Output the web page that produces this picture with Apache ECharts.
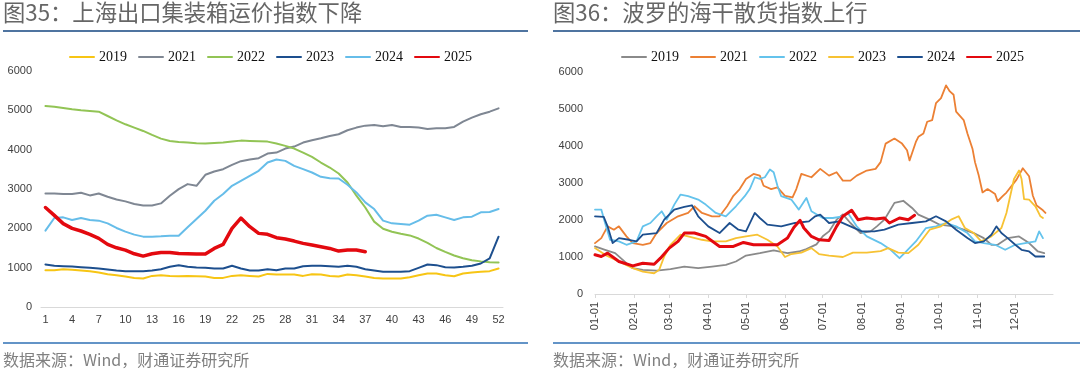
<!DOCTYPE html>
<html><head><meta charset="utf-8">
<script src="https://cdn.jsdelivr.net/npm/echarts@6/dist/echarts.min.js"></script>
<style>html,body{margin:0;padding:0;background:#fff}#c{width:1080px;height:373px}</style>
</head><body><div id="c"></div><script>
// ---------- Left chart: SCFI weekly ----------
var weeks = [];
for (var i = 1; i <= 52; i++) weeks.push(String(i));
var scfi2019 = [936,936,962,945,928,911,877,834,808,774,740,723,791,808,791,783,791,783,774,740,740,791,808,791,774,842,825,825,825,791,834,825,791,774,825,808,774,740,723,723,723,757,808,851,851,808,783,851,877,894,911,979];
var scfi2021 = [2887,2887,2871,2871,2904,2837,2887,2803,2735,2685,2617,2583,2583,2634,2828,2997,3124,3082,3361,3445,3504,3614,3707,3749,3783,3901,3927,4028,4079,4180,4240,4290,4349,4392,4493,4561,4611,4628,4594,4628,4577,4577,4561,4527,4544,4544,4577,4713,4814,4899,4966,5051];
var scfi2022 = [5110,5093,5060,5025,5000,4983,4966,4856,4746,4645,4560,4476,4375,4281,4222,4197,4180,4163,4155,4172,4180,4205,4230,4222,4214,4205,4155,4096,4028,3926,3817,3673,3546,3394,3166,2830,2530,2170,1990,1915,1860,1820,1740,1630,1500,1400,1310,1240,1190,1160,1140,1130];
var scfi2023 = [1081,1047,1038,1030,1013,996,979,953,928,911,911,911,928,962,1021,1064,1021,1004,996,979,979,1047,979,928,928,962,936,979,979,1038,1047,1047,1038,1021,1047,1021,962,928,894,894,894,911,996,1081,1064,1013,1004,1021,1047,1106,1234,1787];
var scfi2024 = [1941,2262,2279,2212,2262,2212,2195,2127,2009,1916,1840,1789,1789,1797,1814,1814,2026,2237,2448,2702,2871,3082,3209,3335,3462,3673,3749,3715,3589,3504,3420,3310,3276,3268,3107,2913,2659,2490,2195,2127,2110,2093,2195,2321,2346,2279,2212,2279,2296,2406,2414,2490];
var scfi2025 = [2530,2330,2120,2000,1932,1847,1745,1591,1506,1447,1353,1294,1353,1387,1387,1362,1353,1345,1345,1489,1591,2000,2260,2042,1872,1847,1762,1728,1676,1617,1574,1532,1489,1421,1447,1447,1404];

// ---------- Right chart: BDI daily (sampled [dayOfYear, value]) ----------
var monthDays = [31,28,31,30,31,30,31,31,30,31,30,31];
var monthLabels = ['01-01','02-01','03-01','04-01','05-01','06-01','07-01','08-01','09-01','10-01','11-01','12-01'];
var days = [];
for (var m = 0; m < 12; m++) for (var d = 1; d <= monthDays[m]; d++)
  days.push((m < 9 ? '0' : '') + (m + 1) + '-' + (d < 10 ? '0' : '') + d);

var bdi2019 = [[0,1285],[8,1195],[16,1104],[25,833],[30,697],[38,652],[49,634],[60,670],[71,742],[82,697],[93,742],[104,787],[112,878],[120,1040],[131,1104],[142,1180],[153,1104],[162,1149],[168,1212],[176,1340],[181,1560],[186,1692],[192,2009],[197,2150],[203,1919],[211,1647],[219,1692],[224,1828],[230,2009],[238,2462],[245,2520],[252,2326],[257,2145],[266,2009],[274,1873],[285,1828],[293,1738],[301,1647],[309,1511],[315,1330],[320,1330],[328,1511],[337,1557],[345,1376],[352,1149],[357,1104]];
var bdi2021 = [[0,1376],[5,1511],[10,1828],[15,1738],[19,1828],[25,1557],[30,1376],[38,1330],[44,1376],[49,1647],[57,1919],[66,2100],[74,2190],[79,2371],[85,2190],[93,2100],[99,2100],[105,2371],[110,2654],[115,2836],[120,3109],[126,3246],[131,3200],[134,2927],[140,2836],[145,2882],[151,2654],[157,2609],[160,2836],[164,3246],[172,3155],[179,3382],[186,3200],[192,3291],[197,3064],[203,3064],[208,3200],[216,3337],[223,3382],[227,3564],[231,4065],[238,4201],[244,4065],[248,3883],[250,3610],[255,4110],[257,4247],[261,4338],[264,4656],[268,4702],[271,5157],[275,5293],[279,5639],[282,5475],[285,5384],[287,4929],[293,4702],[296,4338],[300,3928],[302,3564],[305,3200],[308,2745],[312,2836],[318,2700],[320,2507],[324,2643],[327,2742],[335,3092],[340,3400],[345,3181],[348,2655],[351,2391],[356,2262],[358,2190]];
var bdi2022 = [[0,2281],[5,2281],[8,1919],[12,1466],[19,1421],[25,1330],[33,1421],[38,1828],[44,1919],[49,2100],[53,2235],[57,2009],[63,2416],[68,2688],[74,2643],[82,2552],[88,2416],[96,2190],[104,2100],[112,2371],[119,2643],[123,2836],[127,3155],[131,3109],[135,3155],[139,3364],[142,3291],[145,2927],[148,2643],[156,2552],[162,2281],[168,2597],[172,2235],[181,2054],[189,2054],[197,2100],[201,2190],[208,1828],[216,1557],[227,1376],[235,1195],[242,968],[246,1104],[255,1421],[263,1783],[271,1828],[279,1919],[287,1828],[296,1647],[302,1421],[309,1376],[318,1330],[326,1195],[334,1330],[342,1376],[350,1421],[353,1692],[356,1511]];
var bdi2023 = [[0,1240],[8,1059],[19,878],[30,697],[38,606],[47,561],[51,652],[55,1014],[60,1330],[68,1602],[74,1557],[85,1466],[93,1421],[104,1421],[112,1511],[120,1557],[129,1602],[137,1466],[145,1285],[151,1000],[156,1080],[164,1120],[172,1240],[178,1080],[186,1040],[197,1000],[205,1120],[216,1120],[227,1160],[233,1240],[241,1120],[249,1104],[257,1330],[266,1738],[275,1828],[283,2009],[289,2100],[294,1783],[301,1647],[307,1421],[315,1557],[323,1783],[327,2190],[333,3109],[337,3337],[339,3109],[341,2563],[345,2552],[350,2371],[354,2100],[356,2054]];
var bdi2024 = [[0,2100],[7,2082],[10,1828],[14,1376],[19,1511],[27,1466],[33,1421],[38,1602],[49,1647],[55,2009],[63,2281],[71,2353],[77,2398],[82,2100],[90,1828],[99,1647],[107,1919],[114,1738],[120,1692],[127,2190],[131,2054],[137,1873],[148,1828],[159,1919],[170,1964],[175,2100],[179,2145],[186,1919],[194,1964],[203,1828],[212,1692],[222,1692],[230,1738],[241,1873],[252,1919],[263,1964],[271,2100],[279,1964],[287,1738],[296,1511],[302,1376],[309,1421],[315,1602],[319,1828],[323,1647],[328,1511],[334,1330],[339,1195],[345,1149],[350,1014],[357,1014]];
var bdi2025 = [[0,1059],[5,1014],[10,1104],[19,878],[30,760],[38,833],[47,805],[52,968],[59,1240],[66,1421],[71,1647],[79,1647],[88,1557],[99,1285],[110,1285],[118,1394],[126,1330],[134,1330],[145,1330],[153,1511],[158,1800],[163,1990],[166,1783],[172,1557],[178,1466],[186,1448],[192,1828],[197,2100],[204,2262],[209,2009],[216,2054],[223,2027],[230,2054],[234,1919],[242,2054],[249,2009],[254,2127]];

var leftColors = {L2019:'#f7c514', L2021:'#7f8793', L2022:'#92c455', L2023:'#1d4f8e', L2024:'#66bde9', L2025:'#e3090f'};
var rightColors = {R2019:'#8a8a8a', R2021:'#ec8034', R2022:'#64c3ec', R2023:'#f7c233', R2024:'#1d4f8e', R2025:'#e3090f'};

function lineSeries(name, data, color, width, xi) {
  return {name: name, type: 'line', data: data, xAxisIndex: xi, yAxisIndex: xi,
    symbol: 'none', smooth: false, animation: false,
    lineStyle: {color: color, width: width, cap: 'round', join: 'round'},
    itemStyle: {color: color}, z: name.slice(1) === '2025' ? 5 : 2};
}

var series = [
  lineSeries('L2019', scfi2019, leftColors.L2019, 2, 0),
  lineSeries('L2021', scfi2021, leftColors.L2021, 2, 0),
  lineSeries('L2022', scfi2022, leftColors.L2022, 2, 0),
  lineSeries('L2023', scfi2023, leftColors.L2023, 2, 0),
  lineSeries('L2024', scfi2024, leftColors.L2024, 2, 0),
  lineSeries('L2025', scfi2025, leftColors.L2025, 3.5, 0),
  lineSeries('R2019', bdi2019, rightColors.R2019, 1.8, 1),
  lineSeries('R2021', bdi2021, rightColors.R2021, 1.8, 1),
  lineSeries('R2022', bdi2022, rightColors.R2022, 1.8, 1),
  lineSeries('R2023', bdi2023, rightColors.R2023, 1.8, 1),
  lineSeries('R2024', bdi2024, rightColors.R2024, 1.8, 1),
  lineSeries('R2025', bdi2025, rightColors.R2025, 3, 1)
];

var titleStyle = {fontSize: 22.3, color: '#666666', fontWeight: 'normal', fontFamily: 'Noto Sans CJK SC'};
var srcStyle = {fontSize: 16, color: '#808080', fontWeight: 'normal', fontFamily: 'Noto Sans CJK SC'};
var legendText = {fontFamily: 'Liberation Serif', fontSize: 14, color: '#111'};
var axisFont = {fontFamily: 'Liberation Sans', fontSize: 11, color: '#404040'};
var plainNum = function (v) { return String(v); };
var monthSet = {};
monthLabels.forEach(function (s) { monthSet[s] = true; });
var isMonthStart = function (i, v) { return monthSet[v] === true; };

var legendBase = {top: 50, padding: 0, itemWidth: 24, itemHeight: 14, itemGap: 11,
  formatter: function (n) { return n.slice(1); }, textStyle: legendText, selectedMode: false,
  itemStyle: {opacity: 0, color: 'transparent', borderWidth: 0}};

var option = {
  animation: false,
  backgroundColor: '#fff',
  title: [
    {text: '图35：上海出口集装箱运价指数下降', left: 3, top: 1, padding: 0, textStyle: titleStyle},
    {text: '图36：波罗的海干散货指数上行', left: 553, top: 1, padding: 0, textStyle: titleStyle},
    {text: '数据来源：Wind，财通证券研究所', left: 3, top: 352, padding: 0, textStyle: srcStyle},
    {text: '数据来源：Wind，财通证券研究所', left: 553, top: 352, padding: 0, textStyle: srcStyle}
  ],
  graphic: [
    {type: 'line', shape: {x1: 3, y1: 31, x2: 528, y2: 31}, style: {stroke: '#4f74a0', lineWidth: 2}},
    {type: 'line', shape: {x1: 553, y1: 31, x2: 1080, y2: 31}, style: {stroke: '#4f74a0', lineWidth: 2}},
    {type: 'line', shape: {x1: 3, y1: 343, x2: 528, y2: 343}, style: {stroke: '#2f70b4', lineWidth: 1.5}},
    {type: 'line', shape: {x1: 553, y1: 343, x2: 1080, y2: 343}, style: {stroke: '#2f70b4', lineWidth: 1.5}}
  ],
  legend: [
    Object.assign({data: ['L2019','L2021','L2022','L2023','L2024','L2025'], left: 69}, legendBase),
    Object.assign({data: ['R2019','R2021','R2022','R2023','R2024','R2025'], left: 621}, legendBase)
  ],
  grid: [
    {left: 41, right: 577, top: 71, bottom: 66},
    {left: 595, right: 27, top: 72, bottom: 79}
  ],
  xAxis: [
    {type: 'category', gridIndex: 0, data: weeks, boundaryGap: true,
     axisLine: {lineStyle: {color: '#d9d9d9'}}, axisTick: {show: false},
     axisLabel: Object.assign({interval: 2, margin: 7}, axisFont)},
    {type: 'category', gridIndex: 1, data: days, boundaryGap: false,
     axisLine: {lineStyle: {color: '#d9d9d9'}},
     axisTick: {show: true, length: 4, lineStyle: {color: '#d9d9d9'}, interval: isMonthStart},
     axisLabel: Object.assign({rotate: 90, margin: 8, interval: isMonthStart}, axisFont)}
  ],
  yAxis: [
    {type: 'value', gridIndex: 0, min: 0, max: 6000, interval: 1000,
     splitLine: {show: false}, axisLine: {show: false}, axisTick: {show: false},
     axisLabel: Object.assign({margin: 9, formatter: plainNum}, axisFont)},
    {type: 'value', gridIndex: 1, min: 0, max: 6000, interval: 1000,
     splitLine: {show: false}, axisLine: {show: false}, axisTick: {show: false},
     axisLabel: Object.assign({margin: 12, formatter: plainNum}, axisFont)}
  ],
  series: series
};
var chart = echarts.init(document.getElementById('c'), null, {renderer: 'canvas'});
chart.setOption(option);
</script></body></html>
